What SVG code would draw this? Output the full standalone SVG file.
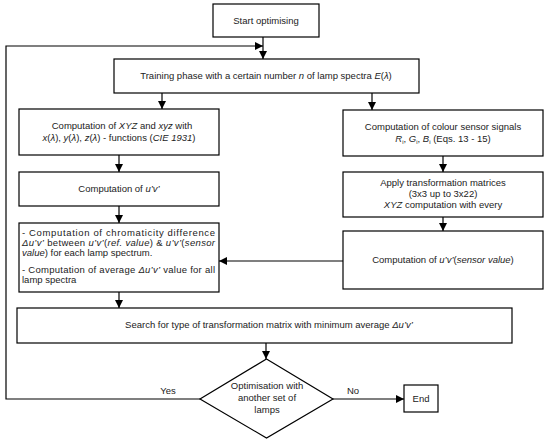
<svg xmlns="http://www.w3.org/2000/svg" width="550" height="442" viewBox="0 0 550 442">
<defs>
<marker id="ah" markerWidth="8" markerHeight="8" refX="8" refY="4" orient="auto" markerUnits="userSpaceOnUse">
<path d="M0,0 L8,4 L0,8 Z" fill="#000"/>
</marker>
<style>
.b{fill:#fff;stroke:#000;stroke-width:1.2}
.c{fill:none;stroke:#000;stroke-width:1.2}
text{font-family:"Liberation Sans",Arial,sans-serif;font-size:9.5px;fill:#222}
.m{text-anchor:middle}
.i{font-style:italic}
</style>
</defs>
<rect width="550" height="442" fill="#fff"/>
<g id="connectors">
<path class="c" d="M263,37 V59" marker-end="url(#ah)"/>
<path class="c" d="M200,399 H6 V46 H263" marker-end="url(#ah)"/>
<path class="c" d="M162,93 V109" marker-end="url(#ah)"/>
<path class="c" d="M372,93 V110" marker-end="url(#ah)"/>
<path class="c" d="M119,155 V172" marker-end="url(#ah)"/>
<path class="c" d="M119,206 V223" marker-end="url(#ah)"/>
<path class="c" d="M443,156 V172" marker-end="url(#ah)"/>
<path class="c" d="M443,217 V231" marker-end="url(#ah)"/>
<path class="c" d="M343,261 H219" marker-end="url(#ah)"/>
<path class="c" d="M119,292 V308" marker-end="url(#ah)"/>
<path class="c" d="M266,343 V359" marker-end="url(#ah)"/>
<path class="c" d="M333,399 H404" marker-end="url(#ah)"/>
<text x="168" y="394" class="m">Yes</text>
<text x="353" y="394" class="m">No</text>
</g>
<g id="start"><rect class="b" x="213" y="4" width="106" height="33"/><text x="266" y="24" class="m">Start optimising</text></g>
<g id="training"><rect class="b" x="114" y="59" width="305" height="34"/><text x="266" y="79" class="m">Training phase with a certain number <tspan class="i">n</tspan> of lamp spectra <tspan class="i">E</tspan>(<tspan class="i">λ</tspan>)</text></g>
<g id="xyz"><rect class="b" x="19" y="109" width="200" height="46"/>
<text x="122" y="129" class="m">Computation of <tspan class="i">XYZ</tspan> and <tspan class="i">xyz</tspan> with</text>
<text x="119" y="141" class="m"><tspan class="i">x</tspan>(<tspan class="i">λ</tspan>), <tspan class="i">y</tspan>(<tspan class="i">λ</tspan>), <tspan class="i">z</tspan>(<tspan class="i">λ</tspan>) - functions (<tspan class="i">CIE 1931</tspan>)</text></g>
<g id="uv"><rect class="b" x="19" y="172" width="200" height="34"/><text x="119" y="192" class="m">Computation of <tspan class="i">u’v’</tspan></text></g>
<g id="diff"><rect class="b" x="19" y="223" width="200" height="69"/>
<text x="22" y="236" textLength="193" lengthAdjust="spacing">- Computation of chromaticity difference</text>
<text x="22" y="246" textLength="193" lengthAdjust="spacing"><tspan class="i">Δu’v’</tspan> between <tspan class="i">u’v’</tspan>(<tspan class="i">ref. value</tspan>) &amp; <tspan class="i">u’v’</tspan>(<tspan class="i">sensor</tspan></text>
<text x="22" y="256"><tspan class="i">value</tspan>) for each lamp spectrum.</text>
<text x="22" y="273" textLength="193" lengthAdjust="spacing">- Computation of average <tspan class="i">Δu’v’</tspan> value for all</text>
<text x="22" y="283">lamp spectra</text></g>
<g id="sensor"><rect class="b" x="343" y="110" width="200" height="46"/>
<text x="443" y="130" class="m">Computation of colour sensor signals</text>
<text x="443" y="142" class="m"><tspan class="i">R</tspan><tspan font-size="6" dy="1.5">i</tspan><tspan dy="-1.5">, </tspan><tspan class="i">G</tspan><tspan font-size="6" dy="1.5">i</tspan><tspan dy="-1.5">, </tspan><tspan class="i">B</tspan><tspan font-size="6" dy="1.5">i</tspan><tspan dy="-1.5"> (Eqs. 13 - 15)</tspan></text></g>
<g id="matrices"><rect class="b" x="343" y="172" width="200" height="45"/>
<text x="443" y="186" class="m">Apply transformation matrices</text>
<text x="443" y="197" class="m">(3x3 up to 3x22)</text>
<text x="443" y="208" class="m"><tspan class="i">XYZ</tspan> computation with every</text></g>
<g id="uvsensor"><rect class="b" x="343" y="231" width="200" height="58"/><text x="443" y="263" class="m">Computation of <tspan class="i">u’v’</tspan>(<tspan class="i">sensor value</tspan>)</text></g>
<g id="search"><rect class="b" x="17" y="308" width="495" height="35"/><text x="269" y="328" class="m">Search for type of transformation matrix with minimum average <tspan class="i">Δu’v’</tspan></text></g>
<g id="decision"><path class="b" d="M266.5,359 L333,399 L266.5,438 L200,399 Z"/>
<text x="267" y="389" class="m">Optimisation with</text>
<text x="267" y="401" class="m">another set of</text>
<text x="267" y="413" class="m">lamps</text></g>
<g id="end"><rect class="b" x="404" y="385" width="34" height="27"/><text x="421" y="402" class="m">End</text></g>
</svg>
